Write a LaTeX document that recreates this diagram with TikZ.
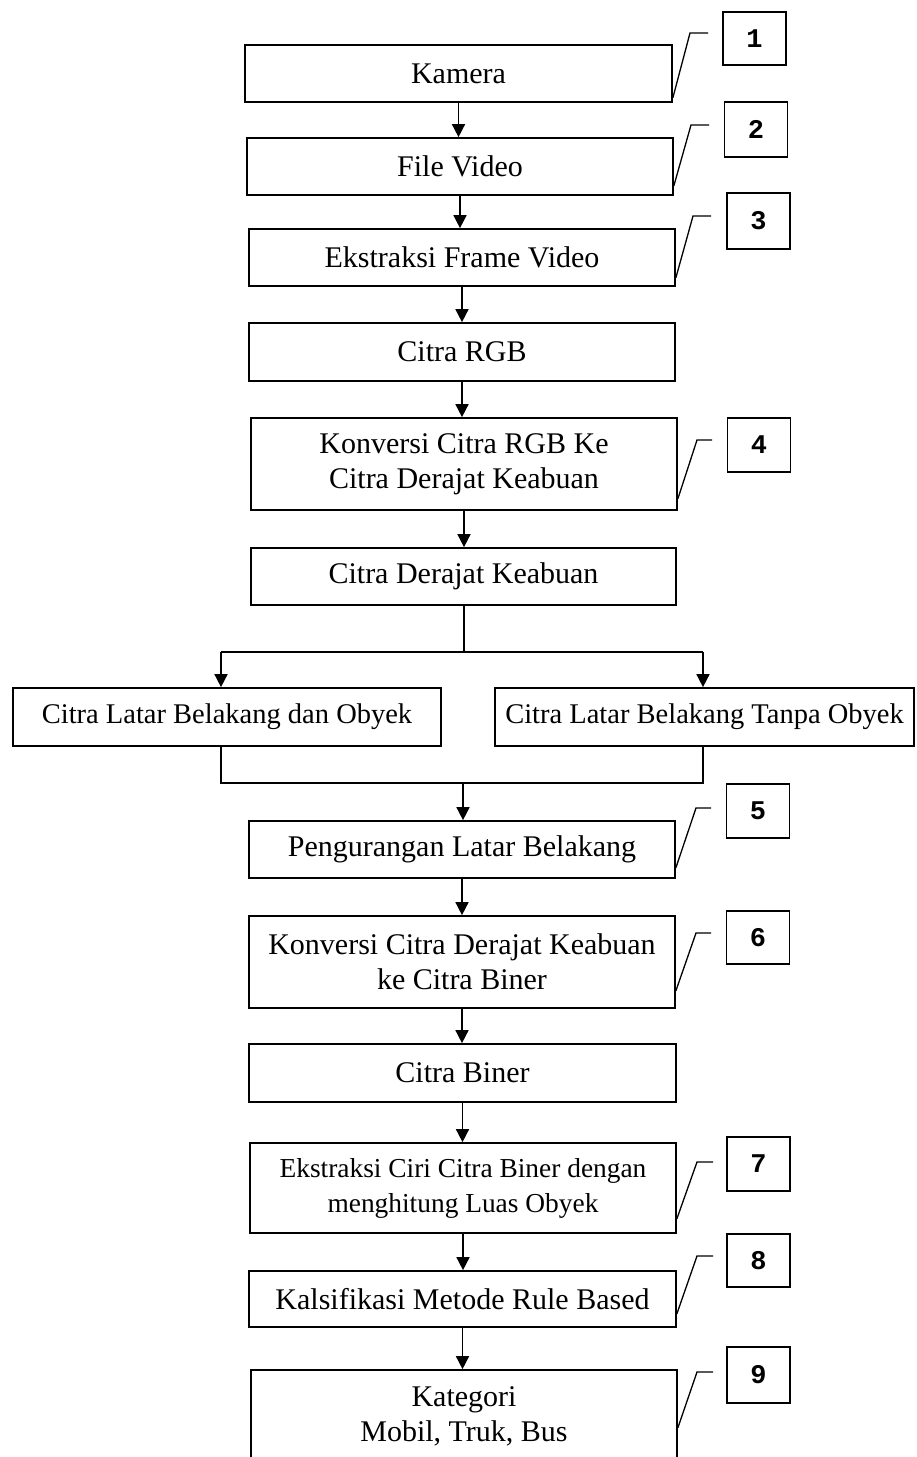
\documentclass[tikz,border=0pt]{standalone}
\usepackage{fontspec}
\setmainfont{Liberation Serif}
\setmonofont{Liberation Mono}
\usetikzlibrary{arrows.meta,calc}
\tikzset{
  box/.style={draw, line width=1.7pt, inner sep=0pt, align=center, font=\fontsize{30}{35}\selectfont},
  num/.style={draw, line width=1.7pt, inner sep=0pt, minimum width=63pt, minimum height=54pt, font=\ttfamily\bfseries\fontsize{27}{27}\selectfont},
  arr/.style={line width=1.6pt, -{Triangle[length=13pt,width=13pt]}},
  conn/.style={line width=1.6pt},
  callout/.style={line width=1.3pt}
}
\begin{document}
\begin{tikzpicture}[x=1pt,y=-1pt]
\useasboundingbox (0,0) rectangle (916,1457);
% main boxes
\node[box, minimum width=427pt, minimum height=57pt] (b1) at (458.5,73.5) {Kamera};
\node[box, minimum width=426pt, minimum height=57pt] (b2) at (460,166.5) {File Video};
\node[box, minimum width=426pt, minimum height=57pt] (b3) at (462,257.5) {Ekstraksi Frame Video};
\node[box, minimum width=426pt, minimum height=58pt] (b4) at (462,352) {Citra RGB};
\node[box, minimum width=426pt, minimum height=92pt] (b5) at (464,464) {Konversi Citra RGB Ke\\Citra Derajat Keabuan};
\node[box, minimum width=425pt, minimum height=57pt] (b6) at (463.5,576.5) {Citra Derajat Keabuan};
\node[box, minimum width=428pt, minimum height=58pt, font=\fontsize{28.5}{33}\selectfont] (bl) at (227,717) {Citra Latar Belakang dan Obyek};
\node[box, minimum width=419pt, minimum height=58pt, font=\fontsize{28.5}{33}\selectfont] (br) at (704.5,717) {Citra Latar Belakang Tanpa Obyek};
\node[box, minimum width=426pt, minimum height=57pt] (b7) at (462,849.5) {Pengurangan Latar Belakang};
\node[box, minimum width=426pt, minimum height=92pt] (b8) at (462,962) {Konversi Citra Derajat Keabuan\\ke Citra Biner};
\node[box, minimum width=427pt, minimum height=58pt] (b9) at (462.5,1073) {Citra Biner};
\node[box, minimum width=426pt, minimum height=90pt, font=\fontsize{27.4}{35}\selectfont] (b10) at (463,1188) {Ekstraksi Ciri Citra Biner dengan\\menghitung Luas Obyek};
\node[box, minimum width=427pt, minimum height=56pt] (b11) at (462.5,1299) {Kalsifikasi Metode Rule Based};
\node[box, minimum width=426pt, minimum height=92pt] (b12) at (464,1416) {Kategori\\Mobil, Truk, Bus};
% number boxes
\node[num, minimum height=53pt] (n1) at (754.5,38.5) {1};
\node[num, minimum height=55pt] (n2) at (756,129.5) {2};
\node[num, minimum height=56pt] (n3) at (758.5,221) {3};
\node[num] (n4) at (759,445) {4};
\node[num] (n5) at (758,811) {5};
\node[num, minimum height=53pt] (n6) at (758,937.5) {6};
\node[num] (n7) at (758.5,1164) {7};
\node[num, minimum height=53pt] (n8) at (758.5,1260.5) {8};
\node[num, minimum height=56pt] (n9) at (758.5,1375) {9};
% arrows
\draw[arr] (b1) -- (b1.south |- b2.north);
\draw[arr] (b2) -- (b2.south |- b3.north);
\draw[arr] (b3) -- (b3.south |- b4.north);
\draw[arr] (b4) -- (b4.south |- b5.north);
\draw[arr] (b5) -- (b5.south |- b6.north);
% split
\coordinate (sp) at (464,652);
\coordinate (sl) at (221,652);
\coordinate (sr) at (703,652);
\draw[conn] (b6.south -| sp) -- (sp);
\draw[conn] (sl) -- (sr);
\draw[arr] (sl) -- (sl |- bl.north);
\draw[arr] (sr) -- (sr |- br.north);
% merge
\coordinate (ml) at (221,783);
\coordinate (mr) at (703,783);
\coordinate (mm) at (463,783);
\draw[conn] (ml |- bl.south) -- (ml) -- (mr) -- (mr |- br.south);
\draw[arr] (mm) -- (mm |- b7.north);
\draw[arr] (b7) -- (b7.south |- b8.north);
\draw[arr] (b8) -- (b8.south |- b9.north);
\draw[arr] (b9) -- (b9.south |- b10.north);
\draw[arr] (b10) -- (b10.south |- b11.north);
\draw[arr] (b11) -- (b11.south |- b12.north);
% callouts
\coordinate (k1) at (690,33);   \coordinate (e1) at (708,33);
\coordinate (k2) at (691,125);  \coordinate (e2) at (709,125);
\coordinate (k3) at (693,216);  \coordinate (e3) at (711,216);
\coordinate (k4) at (697,440);  \coordinate (e4) at (712,440);
\coordinate (k5) at (696,808);  \coordinate (e5) at (711,808);
\coordinate (k6) at (696,933);  \coordinate (e6) at (711,933);
\coordinate (k7) at (697,1162); \coordinate (e7) at (713,1162);
\coordinate (k8) at (697,1256); \coordinate (e8) at (713,1256);
\coordinate (k9) at (697,1372); \coordinate (e9) at (713,1372);
\draw[callout] ([yshift=5pt]b1.south east) -- (k1) -- (e1);
\draw[callout] ([yshift=10pt]b2.south east) -- (k2) -- (e2);
\draw[callout] ([yshift=9pt]b3.south east) -- (k3) -- (e3);
\draw[callout] ([yshift=12pt]b5.south east) -- (k4) -- (e4);
\draw[callout] ([yshift=11pt]b7.south east) -- (k5) -- (e5);
\draw[callout] ([yshift=18pt]b8.south east) -- (k6) -- (e6);
\draw[callout] ([yshift=15pt]b10.south east) -- (k7) -- (e7);
\draw[callout] ([yshift=14pt]b11.south east) -- (k8) -- (e8);
\draw[callout] ([yshift=35pt]b12.south east) -- (k9) -- (e9);
\end{tikzpicture}
\end{document}
